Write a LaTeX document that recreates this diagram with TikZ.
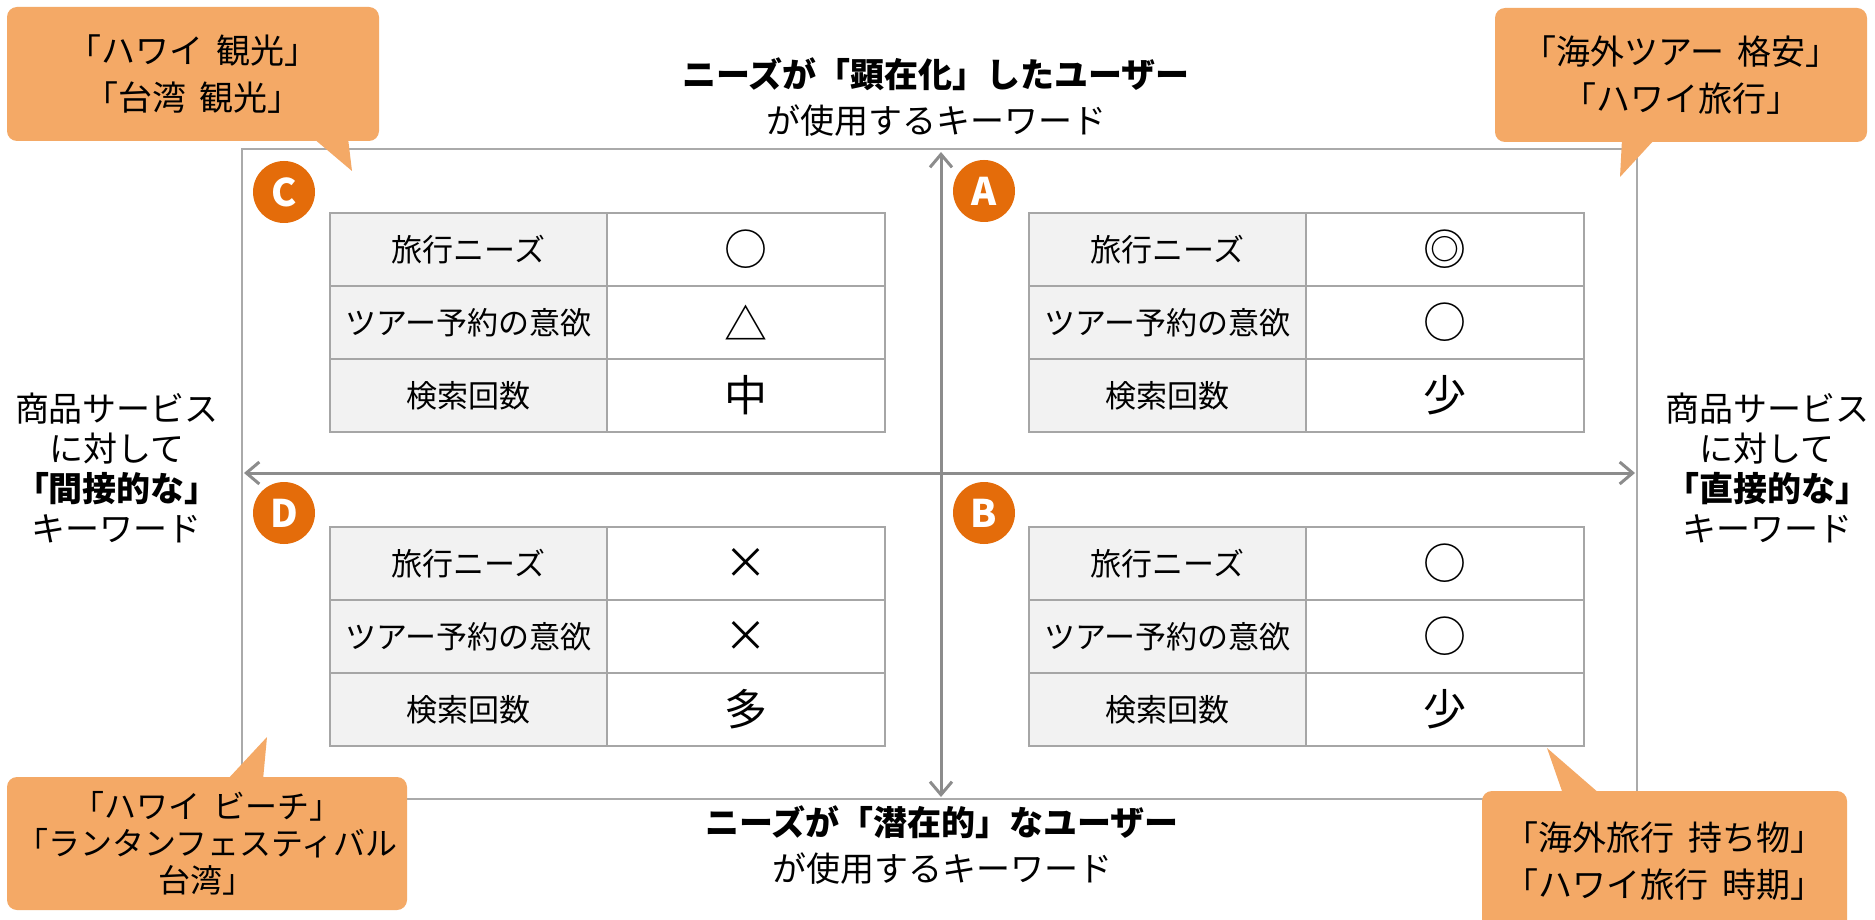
\documentclass[tikz,border=0pt]{standalone}
\usepackage{fontspec}
\setmainfont{Noto Sans CJK JP}
\usetikzlibrary{arrows.meta}
\definecolor{calloutfill}{HTML}{F4A966}
\definecolor{badgefill}{HTML}{E46C0A}
\definecolor{cellgray}{HTML}{F2F2F2}
\definecolor{cellline}{HTML}{A6A6A6}
\definecolor{axisgray}{HTML}{8C8C8C}
\definecolor{framegray}{HTML}{AAAAAA}

\newcommand\qtable[6]{%
  \node[lcell] (#1-l1) at (#2,#3) {旅行ニーズ};
  \node[rcell] (#1-r1) at (#1-l1.north east) {#4};
  \node[lcell] (#1-l2) at (#1-l1.south west) {ツアー予約の意欲};
  \node[rcell] (#1-r2) at (#1-l2.north east) {#5};
  \node[lcell] (#1-l3) at (#1-l2.south west) {検索回数};
  \node[rcell] (#1-r3) at (#1-l3.north east) {#6};
}
\newcommand\jsp{\hspace{0.4em}}

\begin{document}
\begin{tikzpicture}[x=1pt,y=-1pt,
  lcell/.style={draw=cellline, fill=cellgray, line width=2pt, minimum width=277pt,
    minimum height=73pt, inner sep=0pt, outer sep=0pt, anchor=north west,
    font=\fontsize{31pt}{31pt}\selectfont},
  rcell/.style={draw=cellline, fill=white, line width=2pt, minimum width=278pt,
    minimum height=73pt, inner sep=0pt, outer sep=0pt, anchor=north west,
    font=\fontsize{43pt}{43pt}\selectfont},
  badgec/.style={circle, fill=badgefill, minimum size=62pt, inner sep=0pt,
    text=white, font=\fontsize{38pt}{38pt}\selectfont\bfseries},
  axisline/.style={draw=axisgray, line width=3pt,
    {Straight Barb[length=13pt,width=22pt]}-{Straight Barb[length=13pt,width=22pt]}},
  calloutbox/.style={fill=calloutfill, rounded corners=10pt, inner sep=0pt,
    align=center, font=\fontsize{34pt}{47pt}\selectfont},
  tailfill/.style={fill=calloutfill},
  sidelabel/.style={align=center, inner sep=0pt, font=\fontsize{34pt}{40pt}\selectfont},
  titlelabel/.style={align=center, inner sep=0pt, font=\fontsize{34pt}{46pt}\selectfont}
]
\useasboundingbox (0,0) rectangle (1875,920);
\fill[white] (0,0) rectangle (1875,920);

% frame
\node[draw=framegray, line width=1.5pt, minimum width=1395pt, minimum height=650pt,
  anchor=north west, inner sep=0pt, outer sep=0pt] (frame) at (242,149) {};

% axes
\coordinate (vtop) at (941,152);
\coordinate (vbot) at (941,797);
\coordinate (hleft) at (244,473);
\coordinate (hright) at (1635,473);
\draw[axisline] (vtop) -- (vbot);
\draw[axisline] (hleft) -- (hright);

% tables
\qtable{C}{330}{213}{○}{△}{中}
\qtable{A}{1029}{213}{◎}{○}{少}
\qtable{D}{330}{527}{×}{×}{多}
\qtable{B}{1029}{527}{○}{○}{少}

% badges
\node[badgec] (bC) at (284,192) {C};
\node[badgec] (bA) at (984,191) {A};
\node[badgec] (bD) at (284,513) {D};
\node[badgec] (bB) at (984,513) {B};

% titles
\node[titlelabel] (ttop) at (936,97) {\textbf{ニーズが「顕在化」したユーザー}\\が使用するキーワード};
\node[titlelabel] (tbot) at (942,845) {\textbf{ニーズが「潜在的」なユーザー}\\が使用するキーワード};

% side labels
\node[sidelabel] (sleft) at (117,468) {商品サービス\\に対して\\\textbf{「間接的な」}\\キーワード};
\node[sidelabel] (sright) at (1767,468) {商品サービス\\に対して\\\textbf{「直接的な」}\\キーワード};

% callouts
\node[calloutbox, minimum width=372pt, minimum height=134pt] (coC) at (193,74)
  {「ハワイ\jsp 観光」\\「台湾\jsp 観光」};
\coordinate (tipC) at (352,171);
\fill[tailfill] (313,138) -- (tipC) -- (348,138) -- cycle;

\node[calloutbox, minimum width=372pt, minimum height=134pt] (coA) at (1681,75)
  {「海外ツアー\jsp 格安」\\「ハワイ旅行」};
\coordinate (tipA) at (1620,177);
\fill[tailfill] (1622,139) -- (tipA) -- (1655,139) -- cycle;

\node[calloutbox, minimum width=400pt, minimum height=133pt,
  font=\fontsize{32pt}{37pt}\selectfont] (coD) at (207,843.5)
  {「ハワイ\jsp ビーチ」\\「ランタンフェスティバル\\台湾」};
\coordinate (tipD) at (267,737);
\fill[tailfill] (227,780) -- (tipD) -- (263,780) -- cycle;

\node[calloutbox, minimum width=365pt, minimum height=140pt] (coB) at (1664.5,861)
  {「海外旅行\jsp 持ち物」\\「ハワイ旅行\jsp 時期」};
\coordinate (tipB) at (1547,748);
\fill[tailfill] (1563,794) -- (tipB) -- (1600,794) -- cycle;
\end{tikzpicture}
\end{document}
